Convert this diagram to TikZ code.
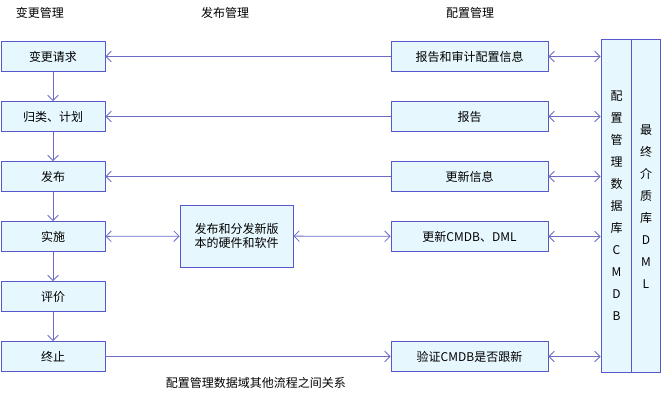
\documentclass[tikz,border=0pt]{standalone}
\usepackage{fontspec}
\setmainfont{Noto Sans CJK SC}
\usetikzlibrary{arrows.meta}

\begin{document}
\begin{tikzpicture}[x=0.75pt,y=-0.75pt,
	box/.style={draw=blue!55!gray!85,fill=cyan!10!white,line width=0.6pt,inner sep=0pt,font=\fontsize{9}{11}\selectfont},
	flow/.style={draw=blue!45!gray!80,line width=0.6pt,-{Straight Barb[length=4pt,width=8pt]}},
	both/.style={flow,{Straight Barb[length=4pt,width=8pt]}-{Straight Barb[length=4pt,width=8pt]}},
	title/.style={font=\fontsize{9}{11}\selectfont}]
	\useasboundingbox (0,0) rectangle (662,401);
	
	%TITLES
	\node[title] (t1) at (40,13) {变更管理};
	\node[title] (t2) at (225,13) {发布管理};
	\node[title] (t3) at (470,13) {配置管理};
	\node[title] (cap) at (256,383) {配置管理数据域其他流程之间关系};
	
	%CHANGE COLUMN
	\foreach \name/\txt/\y in {c1/变更请求/56.5,c2/归类、计划/116.5,c3/发布/176.5,c4/实施/236.5,c5/评价/296.5,c6/终止/356.5}
		\node[box,minimum width=104\pgflinewidth*0+78pt,minimum height=22.5pt] (\name) at (53,\y) {\txt};
	%CONFIG COLUMN
	\foreach \name/\txt/\y in {k1/报告和审计配置信息/56.5,k2/报告/116.5,k3/更新信息/176.5,k4/更新CMDB、DML/236.5,k6/验证CMDB是否跟新/356.5}
		\node[box,minimum width=117.75pt,minimum height=22.5pt] (\name) at (469.5,\y) {\txt};
	%RELEASE
	\node[box,minimum width=84.75pt,minimum height=46.5pt,align=left] (r) at (236.5,236) {发布和分发新版\\本的硬件和软件};
	%DATABASES
	\node[box,minimum width=23.25pt,minimum height=249.75pt] (db) at (616.5,206) {};
	\node[box,minimum width=21.75pt,minimum height=249.75pt] (dml) at (646,206) {};
	\node[title,align=center,font=\fontsize{9}{16.5}\selectfont] (dbt) at (db) {配\\置\\管\\理\\数\\据\\库\\C\\M\\D\\B};
	\node[title,align=center,font=\fontsize{9}{16.5}\selectfont] (dmlt) at (646,207) {最\\终\\介\\质\\库\\D\\M\\L};
	
	%ARROWS
	\foreach \a/\b in {c1/c2,c2/c3,c3/c4,c4/c5,c5/c6}
		\draw[flow] (\a) -- (\b);
	\foreach \k/\c in {k1/c1,k2/c2,k3/c3}
		\draw[flow] (\k) -- (\c);
	\draw[flow] (c6) -- (k6);
	\draw[both] (c4) -- (r);
	\draw[both] (r) -- (k4);
	\foreach \k in {k1,k2,k3,k4,k6}
		\draw[both] (\k.east) -- (\k.east -| db.west);
\end{tikzpicture}
\end{document}
